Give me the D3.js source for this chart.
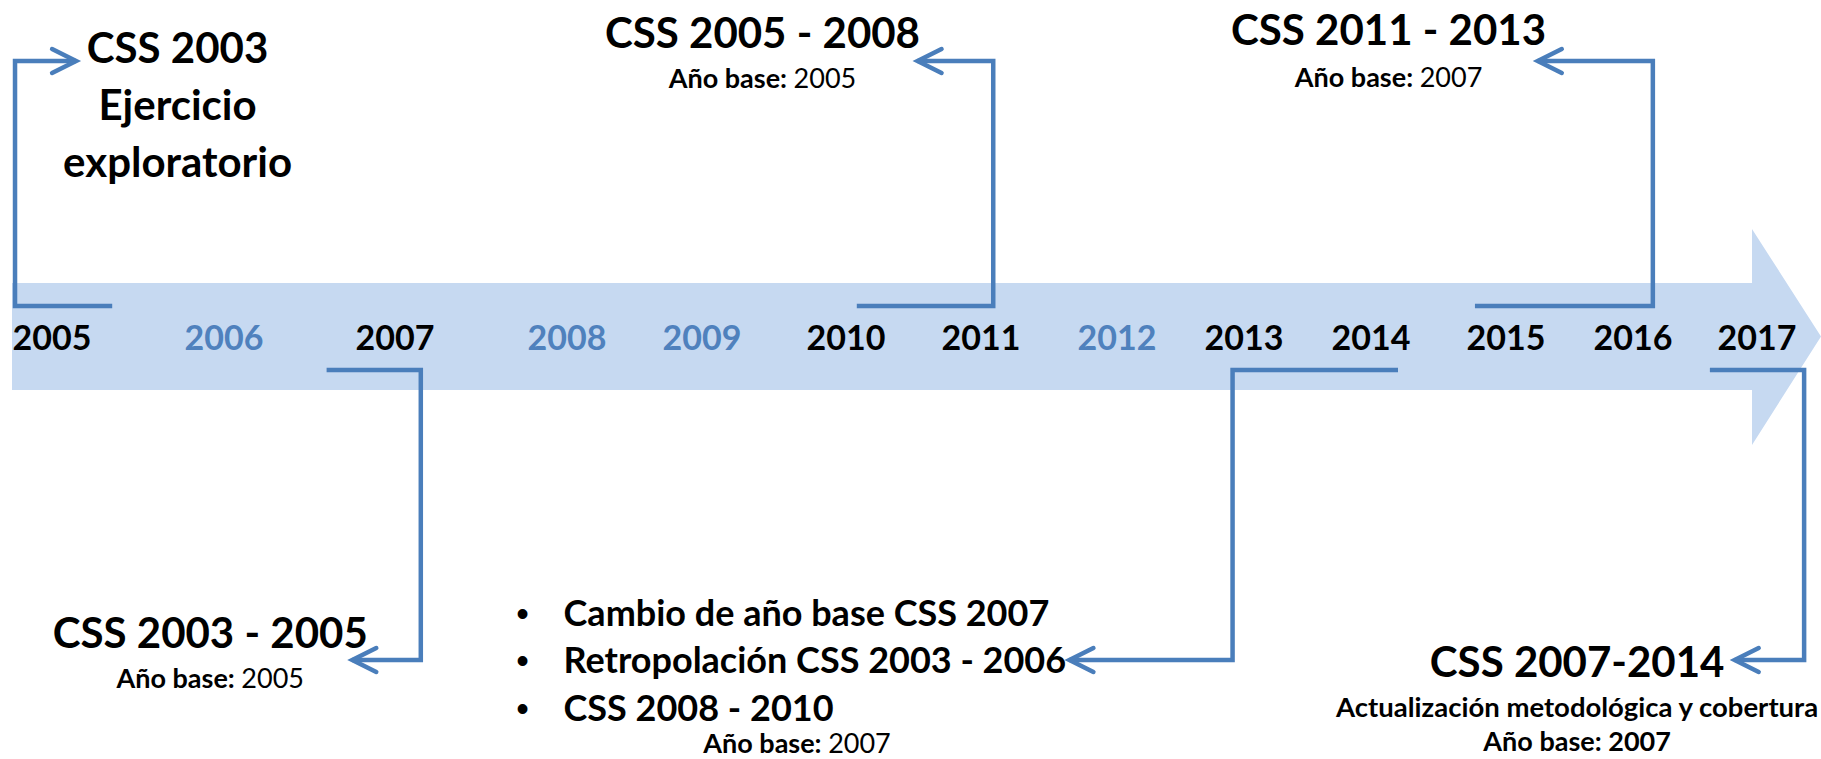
<!DOCTYPE html>
<html>
<head>
<meta charset="utf-8">
<script src="https://cdn.jsdelivr.net/npm/d3@7"></script>
<style>
  html, body { margin: 0; padding: 0; background: #ffffff; }
  svg { display: block; }
</style>
</head>
<body>
<svg id="chart" width="1821" height="759"></svg>
<script>
// ---------------- DATA ----------------
const years = [2005, 2006, 2007, 2008, 2009, 2010, 2011, 2012, 2013, 2014, 2015, 2016, 2017];
const highlightedYears = [2006, 2008, 2009, 2012];

// milestones (one entry per callout)
const milestoneSides = ["top", "top", "top", "bottom", "bottom", "bottom"];
const milestoneTitles = [
  ["CSS 2003", "Ejercicio", "exploratorio"],
  ["CSS 2005 - 2008"],
  ["CSS 2011 - 2013"],
  ["CSS 2003 - 2005"],
  [],
  ["CSS 2007-2014"]
];
const milestoneBullets = [
  [], [], [], [],
  ["Cambio de año base CSS 2007", "Retropolación CSS 2003 - 2006", "CSS 2008 - 2010"],
  []
];
const milestoneNotes = [null, null, null, null, null, "Actualización metodológica y cobertura"];
const milestoneBaseYears = [null, 2005, 2007, 2005, 2007, 2007];
const baseYearBold = [false, false, false, false, false, true];

// connector spans on the year axis (fractional years)
const connectorFrom   = [2005.35, 2010.08, 2014.77, 2006.60, 2014.20, 2016.62];
const connectorCorner = [2004.785, 2011.09, 2016.16, 2007.15, 2012.91, 2017.38];
const connectorTip    = [2005.14, 2010.53, 2015.25, 2006.75, 2011.65, 2016.82];

// ---------------- LAYOUT / STYLE ----------------
const W = 1821, H = 759;
const FONT = "Lato, 'Open Sans', sans-serif";
const LINE_BLUE = "#4a7ebb", TEXT_BLUE = "#4f81bd", BAND_BLUE = "#c6d9f1";
const yearCenters = [52, 224, 395, 567, 702, 846, 981, 1117, 1244, 1371, 1506, 1633, 1757];

const textLayout = [
  { cx: 2005.73, titleY: [63, 120, 177] },
  { cx: 2009.42, titleY: [48], baseY: 88 },
  { cx: 2014.13, titleY: [45], baseY: 87 },
  { cx: 2005.92, titleY: [648], baseY: 688 },
  { bulletX: 2007.98, bulletY: [626, 673, 721], cx: 2009.66, baseY: 753 },
  { cx: 2015.56, titleY: [677], noteY: 717, baseY: 751 }
];
const sideLevels = {
  top:    { band: 306, arm: 61 },
  bottom: { band: 370, arm: 660 }
};
const SIZE_TITLE = 42, SIZE_BULLET = 36, SIZE_YEAR = 34, SIZE_SMALL = 27, SIZE_NOTE = 27.5;

// ---------------- DRAW ----------------
const svg = d3.select("#chart");
const x = d3.scaleLinear().domain(years).range(yearCenters);

// big arrow band
const band = { left: 12, top: 283, bottom: 390, neck: 1752, headTop: 229, headBottom: 445, tip: W };
const mid = (band.top + band.bottom) / 2;
svg.append("path")
  .attr("d", `M${band.left},${band.top}H${band.neck}V${band.headTop}L${band.tip},${mid}L${band.neck},${band.headBottom}V${band.bottom}H${band.left}Z`)
  .attr("fill", BAND_BLUE);

// connectors
const gConn = svg.append("g").attr("fill", "none").attr("stroke", LINE_BLUE).attr("stroke-width", 4.5);
milestoneSides.forEach((side, i) => {
  const lv = sideLevels[side];
  const x0 = x(connectorFrom[i]), xc = x(connectorCorner[i]), xt = x(connectorTip[i]);
  gConn.append("path")
    .attr("stroke-linejoin", "miter")
    .attr("d", `M${x0},${lv.band}H${xc}V${lv.arm}H${xt}`);
  const dir = Math.sign(xc - xt); // arms point back toward the corner
  gConn.append("path")
    .attr("stroke-linecap", "round")
    .attr("stroke-linejoin", "miter")
    .attr("d", `M${xt + dir * 24},${lv.arm - 12}L${xt},${lv.arm}L${xt + dir * 24},${lv.arm + 12}`);
});

// year labels
svg.append("g").selectAll("text").data(years).join("text")
  .attr("x", d => x(d))
  .attr("y", 350)
  .attr("text-anchor", "middle")
  .attr("font-family", FONT)
  .attr("font-weight", 700)
  .attr("font-size", SIZE_YEAR)
  .attr("fill", d => highlightedYears.includes(d) ? TEXT_BLUE : "#000")
  .text(d => d);

// milestone texts
const gText = svg.append("g").attr("font-family", FONT).attr("fill", "#000");
milestoneTitles.forEach((lines, i) => {
  const L = textLayout[i];
  lines.forEach((t, k) => {
    gText.append("text")
      .attr("x", x(L.cx)).attr("y", L.titleY[k])
      .attr("text-anchor", "middle")
      .attr("font-weight", 700).attr("font-size", SIZE_TITLE)
      .text(t);
  });
  milestoneBullets[i].forEach((t, k) => {
    const bx = x(L.bulletX);
    gText.append("text")
      .attr("x", bx - 41).attr("y", L.bulletY[k])
      .attr("text-anchor", "middle")
      .attr("font-family", "'Liberation Sans', Arial, sans-serif")
      .attr("font-size", SIZE_BULLET)
      .text("\u2022");
    gText.append("text")
      .attr("x", bx).attr("y", L.bulletY[k])
      .attr("font-weight", 700).attr("font-size", SIZE_BULLET)
      .text(t);
  });
  if (milestoneNotes[i]) {
    gText.append("text")
      .attr("x", x(L.cx)).attr("y", L.noteY)
      .attr("text-anchor", "middle")
      .attr("font-weight", 700).attr("font-size", SIZE_NOTE)
      .text(milestoneNotes[i]);
  }
  if (milestoneBaseYears[i] !== null) {
    const t = gText.append("text")
      .attr("x", x(L.cx)).attr("y", L.baseY)
      .attr("text-anchor", "middle")
      .attr("font-size", SIZE_SMALL);
    t.append("tspan").attr("font-weight", 700).text("Año base: ");
    t.append("tspan").attr("font-weight", baseYearBold[i] ? 700 : 400).text(milestoneBaseYears[i]);
  }
});
</script>
</body>
</html>
